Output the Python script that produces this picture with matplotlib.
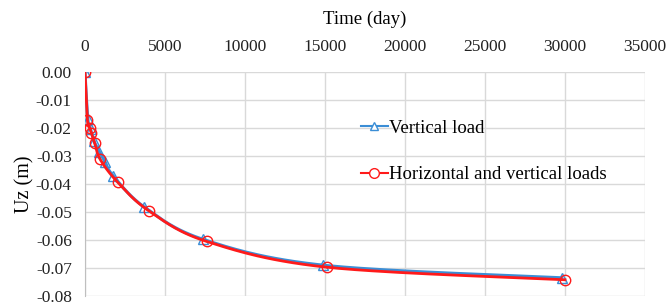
import matplotlib

matplotlib.use("Agg")

import matplotlib.pyplot as plt
import numpy as np

# 竖向荷载
t_vertical = [0, 180, 350, 550, 900, 1250, 1750, 3700, 7400, 14900, 29800]
uz_vertical = [0, -0.0168, -0.0205, -0.0245, -0.0285, -0.0320, -0.0370,
               -0.0482, -0.0598, -0.0690, -0.0735]

# 水平 + 竖向荷载
t_both = [0, 150, 300, 400, 600, 950, 2050, 4000, 7600, 15100, 30000]
uz_both = [0, -0.0170, -0.0200, -0.0218, -0.0252, -0.0312, -0.0394,
           -0.0496, -0.0605, -0.0697, -0.0742]

x_ticks = [0, 5000, 10000, 15000, 20000, 25000, 30000, 35000]
y_ticks = [0.00, -0.01, -0.02, -0.03, -0.04, -0.05, -0.06, -0.07, -0.08]

X_RANGE = (0, 35000)
Y_RANGE = (-0.08, 0.0)


def smooth(xs, ys, n=30):
    """Excel 风格的平滑线（Catmull-Rom，在归一化坐标里计算）。"""
    sx = (X_RANGE[1] - X_RANGE[0]) / 560.0
    sy = (Y_RANGE[1] - Y_RANGE[0]) / 224.0
    p = np.column_stack([np.array(xs) / sx, np.array(ys) / sy])
    p = np.vstack([p[0], p, p[-1]])
    out = []
    for i in range(1, len(p) - 2):
        p0, p1, p2, p3 = p[i - 1], p[i], p[i + 1], p[i + 2]
        t = np.linspace(0, 1, n)[:, None]
        seg = 0.5 * ((2 * p1) + (-p0 + p2) * t
                     + (2 * p0 - 5 * p1 + 4 * p2 - p3) * t ** 2
                     + (-p0 + 3 * p1 - 3 * p2 + p3) * t ** 3)
        out.append(seg)
    out = np.vstack(out)
    return out[:, 0] * sx, out[:, 1] * sy


plt.rcParams["font.family"] = ["Liberation Serif", "DejaVu Serif"]
plt.rcParams["axes.unicode_minus"] = False

fig = plt.figure(figsize=(6.67, 3.07), dpi=100)
ax = fig.add_axes([0.1274, 0.0358, 0.8396, 0.7297])

blue = "#3B8ED6"
red = "#FF1A1A"

bx, by = smooth(t_vertical, uz_vertical)
rx, ry = smooth(t_both, uz_both)
ax.plot(bx, by, color=blue, lw=2.2, zorder=3)
ax.plot(t_vertical, uz_vertical, ls="none", marker="^", ms=6.5,
        mfc="none", mec=blue, mew=1.0, zorder=3)
ax.plot(rx, ry, color=red, lw=2.0, zorder=4)
ax.plot(t_both, uz_both, ls="none", marker="o", ms=7.5,
        mfc="none", mec=red, mew=1.0, zorder=4)

# 图例用的代理
ax.plot([], [], color=blue, lw=1.5, marker="^", ms=6, mfc="white",
        mec=blue, label="Vertical load")
ax.plot([], [], color=red, lw=1.5, marker="o", ms=7, mfc="white",
        mec=red, label="Horizontal and vertical loads")
handles, labels = ax.get_legend_handles_labels()
ax.legend(handles, labels, loc="upper left", bbox_to_anchor=(0.48, 0.82),
          frameon=False, fontsize=13.5, handlelength=1.4, handletextpad=0.1,
          labelspacing=1.55, borderaxespad=0)

ax.set_xlim(*X_RANGE)
ax.set_ylim(*Y_RANGE)
ax.set_xticks(x_ticks)
ax.set_yticks(y_ticks)
ax.set_yticklabels([f"{v:.2f}" for v in y_ticks])
ax.xaxis.tick_top()
ax.xaxis.set_label_position("top")
ax.tick_params(length=0, labelsize=12.5, colors="#222222")
ax.tick_params(axis="y", pad=9.5)
ax.tick_params(axis="x", pad=12)
ax.set_xlabel("Time (day)", fontsize=13.5, labelpad=11)
ax.set_ylabel("Uz (m)", fontsize=14.5, labelpad=1)

ax.grid(color="#d9d9d9", lw=1.0)
for side in ["top", "right", "bottom"]:
    ax.spines[side].set_visible(False)
ax.spines["left"].set_color("#bfbfbf")
ax.set_axisbelow(True)

plt.savefig("out.png", dpi=100)
plt.close()
